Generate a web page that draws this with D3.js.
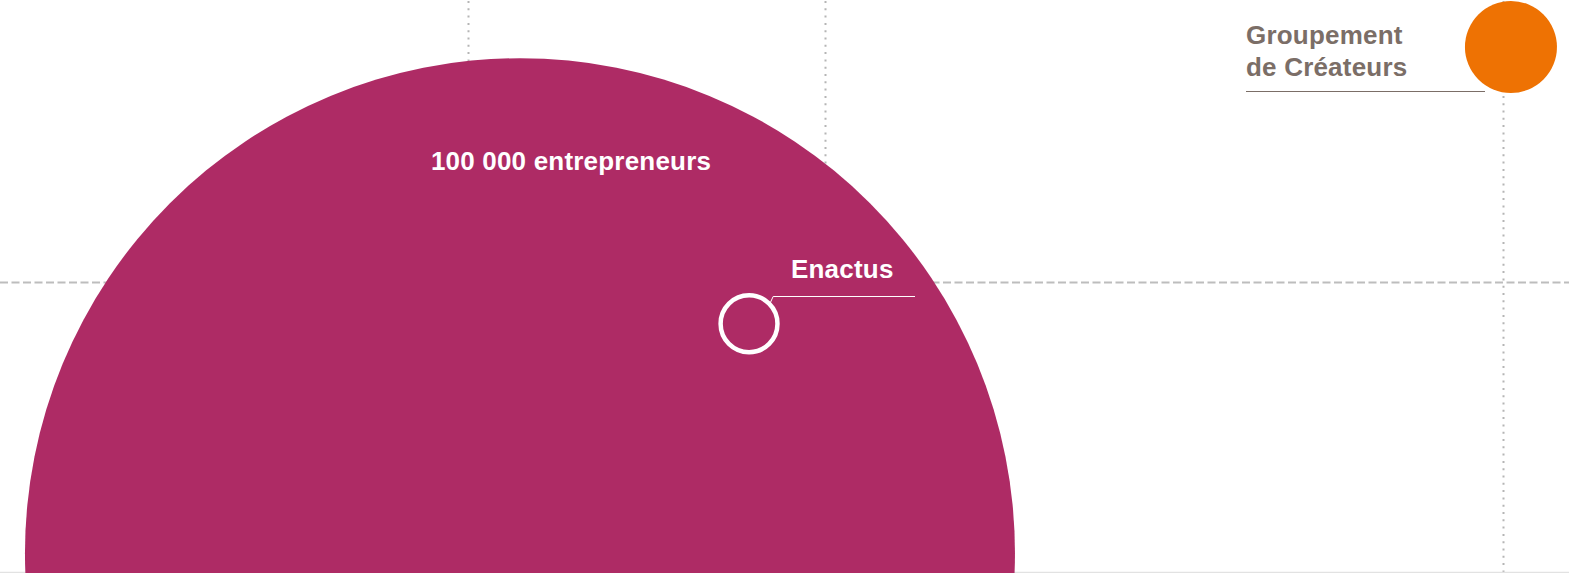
<!DOCTYPE html>
<html><head><meta charset="utf-8">
<script src="https://cdn.jsdelivr.net/npm/d3@7/dist/d3.min.js"></script>
<style>
html,body{margin:0;padding:0;background:#fff;}
svg{display:block;}
</style></head>
<body>
<svg id="chart" width="1569" height="573"></svg>
<script>
// Data
const names = ["100 000 entrepreneurs", "Enactus", "Groupement de Créateurs"];
const values = [100000, 330, 864];          // bubble size values
const xValues = [33.14, 47.74, 96.30];       // horizontal position (0-100 scale)
const yValues = [3.45, 43.5, 91.8];          // vertical position (0-100 scale)
const xGrid = [29.83, 52.58, 95.79];         // vertical reference lines
const yGrid = [50.7];                        // horizontal reference line

const W = 1569, H = 573;
const svg = d3.select("#chart");
const x = d3.scaleLinear().domain([0, 100]).range([0, W]);
const y = d3.scaleLinear().domain([0, 100]).range([H, 0]);
const r = d3.scaleSqrt().domain([0, 100000]).range([0, 495]);

// grid lines
svg.selectAll("line.vg").data(xGrid).join("line")
  .attr("class","vg")
  .attr("x1", d => Math.round(x(d)) + 0.5).attr("x2", d => Math.round(x(d)) + 0.5)
  .attr("y1", 1).attr("y2", H)
  .attr("stroke", "#b5b5b5").attr("stroke-width", 2)
  .attr("stroke-dasharray", "2,5.3");

svg.selectAll("line.hg").data(yGrid).join("line")
  .attr("class","hg")
  .attr("x1", 0).attr("x2", W)
  .attr("y1", d => y(d)).attr("y2", d => y(d))
  .attr("stroke", "#bdbdbd").attr("stroke-width", 2)
  .attr("stroke-dasharray", "8,3.5");

// baseline
svg.append("line")
  .attr("x1", 0).attr("x2", W).attr("y1", H - 0.5).attr("y2", H - 0.5)
  .attr("stroke", "#e2e2e2").attr("stroke-width", 1.5);

// big bubble
svg.append("circle")
  .attr("cx", x(xValues[0])).attr("cy", y(yValues[0])).attr("r", r(values[0]))
  .attr("fill", "#ae2b65");

// orange bubble
svg.append("circle")
  .attr("cx", x(xValues[2])).attr("cy", y(yValues[2])).attr("r", r(values[2]))
  .attr("fill", "#ee7203");

// Enactus bubble (outline)
svg.append("circle")
  .attr("cx", x(xValues[1])).attr("cy", y(yValues[1])).attr("r", r(values[1]))
  .attr("fill", "none").attr("stroke", "#fff").attr("stroke-width", 4.5);

const font = "'Liberation Sans', Arial, Helvetica, sans-serif";
const fs = 26, ls = 0.2;

// Labels
svg.append("text")
  .attr("x", 571).attr("y", 170)
  .attr("text-anchor", "middle")
  .attr("font-family", font).attr("font-weight", "bold").attr("font-size", fs)
  .attr("letter-spacing", ls)
  .attr("fill", "#fff")
  .text(names[0]);

// Enactus label & leader
const ex = x(xValues[1]), ey = y(yValues[1]), er = r(values[1]);
const ang = -Math.PI / 4;
svg.append("path")
  .attr("d", `M${ex + (er + 2) * Math.cos(ang)},${ey + (er + 2) * Math.sin(ang)} L${ex + er * Math.cos(ang) + 4},296.5 L915,296.5`)
  .attr("fill", "none").attr("stroke", "#fff").attr("stroke-width", 1);
svg.append("text")
  .attr("x", 791).attr("y", 278)
  .attr("font-family", font).attr("font-weight", "bold").attr("font-size", fs)
  .attr("letter-spacing", ls)
  .attr("fill", "#fff")
  .text(names[1]);

// Groupement label & leader
const gText = svg.append("text")
  .attr("font-family", font).attr("font-weight", "bold").attr("font-size", fs)
  .attr("letter-spacing", ls)
  .attr("fill", "#7b6e67");
gText.append("tspan").attr("x", 1246).attr("y", 44).text("Groupement");
gText.append("tspan").attr("x", 1246).attr("y", 76).text("de Créateurs");
svg.append("line")
  .attr("x1", 1246).attr("x2", 1485).attr("y1", 91.5).attr("y2", 91.5)
  .attr("stroke", "#7b6e67").attr("stroke-width", 1);
</script>
</body></html>
